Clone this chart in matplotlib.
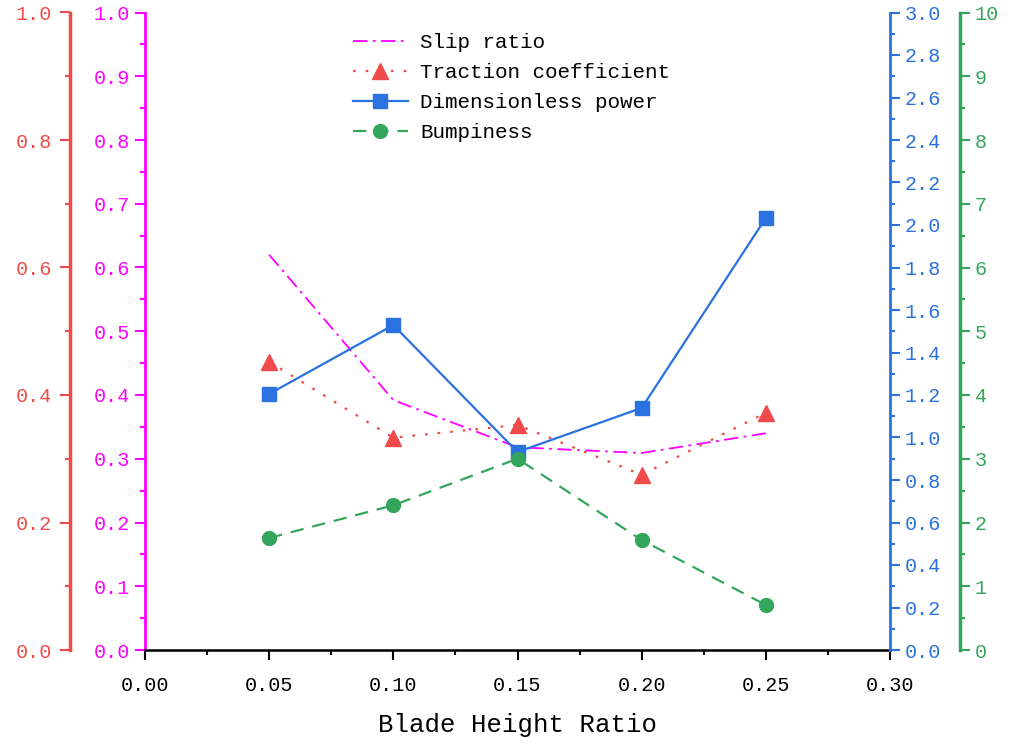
import matplotlib
matplotlib.use("Agg")
import matplotlib.pyplot as plt
from matplotlib.ticker import MultipleLocator, FormatStrFormatter

plt.rcParams['font.family'] = ['Liberation Mono', 'DejaVu Sans Mono']

# data
ratio = [0.05, 0.10, 0.15, 0.20, 0.25]
slip = [0.62, 0.392, 0.318, 0.309, 0.34]          # magenta axis 0-1
traction = [0.452, 0.333, 0.353, 0.275, 0.372]    # red axis 0-1
power = [1.205, 1.529, 0.932, 1.139, 2.033]       # blue axis 0-3
bump = [1.757, 2.27, 3.0, 1.725, 0.706]           # green axis 0-10

c_red = '#f04a4a'
c_mag = '#ff00ff'
c_blue = '#2a72e0'
c_green = '#33a65c'

fig = plt.figure(figsize=(10.11, 7.44), dpi=100)
ax = fig.add_axes([145/1011, 1-650/744, 745/1011, 637.5/744])   # magenta axis (host)
ax_r = ax.twinx()   # red, outer left
ax_b = ax.twinx()   # blue, right
ax_g = ax.twinx()   # green, outer right

for a in (ax, ax_r, ax_b, ax_g):
    a.spines['top'].set_visible(False)
    a.set_facecolor('none')
    a.tick_params(labelsize=14.5, direction='out', width=1.5, length=7)
    a.tick_params(which='minor', direction='out', width=1.5, length=3.5)

# host axis (magenta, left spine)
ax.spines['right'].set_visible(False)
ax.spines['left'].set_color(c_mag)
ax.spines['left'].set_linewidth(2)
ax.spines['bottom'].set_linewidth(1.8)
ax.set_ylim(0, 1.0)
ax.yaxis.set_major_locator(MultipleLocator(0.1))
ax.yaxis.set_minor_locator(MultipleLocator(0.05))
ax.yaxis.set_major_formatter(FormatStrFormatter('%.1f'))
ax.tick_params(axis='y', which='both', colors=c_mag)
ax.set_xlim(0, 0.30)
ax.xaxis.set_major_locator(MultipleLocator(0.05))
ax.xaxis.set_minor_locator(MultipleLocator(0.025))
ax.xaxis.set_major_formatter(FormatStrFormatter('%.2f'))
ax.tick_params(axis='x', pad=12)
ax.set_xlabel('Blade Height Ratio', fontsize=18.5, labelpad=13)

# red axis, outer left (outward offset in points: 75 px)
ax_r.yaxis.set_label_position('left')
ax_r.yaxis.tick_left()
for s in ('right', 'bottom'):
    ax_r.spines[s].set_visible(False)
ax_r.spines['left'].set_position(('outward', 54))
ax_r.spines['left'].set_color(c_red)
ax_r.spines['left'].set_linewidth(2.5)
ax_r.set_ylim(0, 1.0)
ax_r.yaxis.set_major_locator(MultipleLocator(0.2))
ax_r.yaxis.set_minor_locator(MultipleLocator(0.1))
ax_r.yaxis.set_major_formatter(FormatStrFormatter('%.1f'))
ax_r.tick_params(axis='y', which='both', colors=c_red, pad=6)

# blue axis, right spine
for s in ('left', 'bottom'):
    ax_b.spines[s].set_visible(False)
ax_b.spines['right'].set_color(c_blue)
ax_b.spines['right'].set_linewidth(2)
ax_b.set_ylim(0, 3.0)
ax_b.yaxis.set_major_locator(MultipleLocator(0.2))
ax_b.yaxis.set_minor_locator(MultipleLocator(0.1))
ax_b.yaxis.set_major_formatter(FormatStrFormatter('%.1f'))
ax_b.tick_params(axis='y', which='both', colors=c_blue)

# green axis, outer right (70 px)
for s in ('left', 'bottom'):
    ax_g.spines[s].set_visible(False)
ax_g.spines['right'].set_position(('outward', 50.4))
ax_g.spines['right'].set_color(c_green)
ax_g.spines['right'].set_linewidth(2.5)
ax_g.set_ylim(0, 10)
ax_g.yaxis.set_major_locator(MultipleLocator(1))
ax_g.yaxis.set_minor_locator(MultipleLocator(0.5))
ax_g.tick_params(axis='y', which='both', colors=c_green)

l1, = ax.plot(ratio, slip, color=c_mag, linestyle=(0, (8, 3, 1.5, 3)), linewidth=1.3,
              label='Slip ratio')
l2, = ax_r.plot(ratio, traction, color=c_red, linestyle=(0, (1.2, 4.5)), linewidth=1.6,
                marker='^', markersize=11, label='Traction coefficient')
l3, = ax_b.plot(ratio, power, color=c_blue, linestyle='-', linewidth=1.6,
                marker='s', markersize=10, label='Dimensionless power')
l4, = ax_g.plot(ratio, bump, color=c_green, linestyle=(0, (6, 4)), linewidth=1.6,
                marker='o', markersize=10, label='Bumpiness')

fig.legend(handles=[l1, l2, l3, l4], loc='upper left',
           bbox_to_anchor=(345/1011, 1-25/744), frameon=False, fontsize=15,
           handlelength=2.6, labelspacing=0.52, handletextpad=0.6, borderaxespad=0)

fig.savefig('out.png', dpi=100)
